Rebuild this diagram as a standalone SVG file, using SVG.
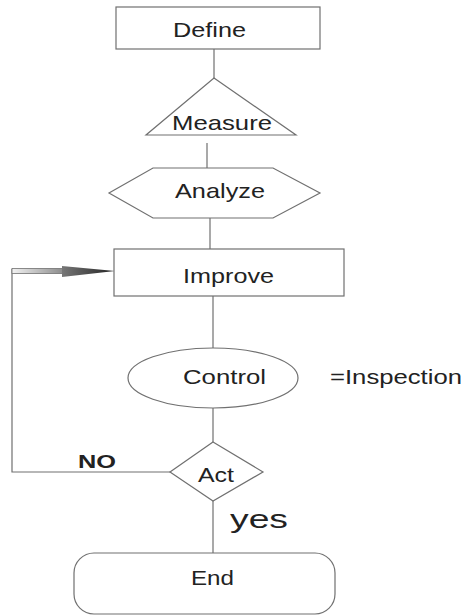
<svg xmlns="http://www.w3.org/2000/svg" width="464" height="615" viewBox="0 0 464 615">
<defs>
<style>
.s{fill:#fff;stroke:#707070;stroke-width:1.2}
.c{fill:none;stroke:#707070;stroke-width:1.2}
.t{font-family:"Liberation Sans",Arial,sans-serif;font-size:21px;fill:#222}
</style>
<linearGradient id="shaft" x1="0" y1="0" x2="1" y2="0">
<stop offset="0" stop-color="#f2f2f2"/>
<stop offset="1" stop-color="#8a8a8a"/>
</linearGradient>
<linearGradient id="head" x1="0" y1="0" x2="1" y2="0">
<stop offset="0" stop-color="#777"/>
<stop offset="0.6" stop-color="#444"/>
<stop offset="1" stop-color="#222"/>
</linearGradient>
</defs>
<rect width="464" height="615" fill="#fff"/>
<g id="connectors">
<line class="c" x1="214" y1="49" x2="214" y2="78"/>
<line class="c" x1="207" y1="143" x2="207" y2="168"/>
<line class="c" x1="210" y1="218" x2="210" y2="249"/>
<line class="c" x1="213" y1="296" x2="213" y2="348"/>
<line class="c" x1="213" y1="408" x2="213" y2="442"/>
<line class="c" x1="213" y1="501" x2="213" y2="553"/>
<polyline class="c" points="170,472 12,472 12,269"/>
<rect x="12" y="268.5" width="52" height="5" fill="url(#shaft)" stroke="#707070" stroke-width="0.8"/>
<polygon points="62,266 115,271 62,277" fill="url(#head)"/>
</g>
<g id="define">
<rect class="s" x="116" y="7" width="204" height="42"/>
<text class="t" x="173" y="37" textLength="73" lengthAdjust="spacingAndGlyphs">Define</text>
</g>
<g id="measure">
<polygon class="s" points="214,78 296,135 146,135"/>
<text class="t" x="172" y="130" textLength="100" lengthAdjust="spacingAndGlyphs">Measure</text>
</g>
<g id="analyze">
<polygon class="s" points="153,168 273,168 320,193 273,218 153,218 109,193"/>
<text class="t" x="175" y="198" textLength="90" lengthAdjust="spacingAndGlyphs">Analyze</text>
</g>
<g id="improve">
<rect class="s" x="114" y="249" width="230" height="47"/>
<text class="t" x="183" y="283" textLength="91" lengthAdjust="spacingAndGlyphs">Improve</text>
</g>
<g id="control">
<ellipse class="s" cx="213" cy="378" rx="85" ry="30"/>
<text class="t" x="183" y="384" textLength="83" lengthAdjust="spacingAndGlyphs">Control</text>
</g>
<g id="inspection">
<text class="t" x="330" y="384" textLength="132" lengthAdjust="spacingAndGlyphs">=Inspection</text>
</g>
<g id="act">
<polygon class="s" points="213,442 263,472 213,501 170,472"/>
<text class="t" x="198" y="482" textLength="36" lengthAdjust="spacingAndGlyphs">Act</text>
</g>
<g id="labels">
<text class="t" x="78" y="468" font-weight="bold" style="font-size:19px" textLength="38" lengthAdjust="spacingAndGlyphs">NO</text>
<text class="t" x="230" y="528" style="font-size:25px" textLength="58" lengthAdjust="spacingAndGlyphs">yes</text>
</g>
<g id="end">
<rect class="s" x="74" y="553" width="261" height="61" rx="20" ry="20"/>
<text class="t" x="191" y="585" textLength="43" lengthAdjust="spacingAndGlyphs">End</text>
</g>
</svg>
